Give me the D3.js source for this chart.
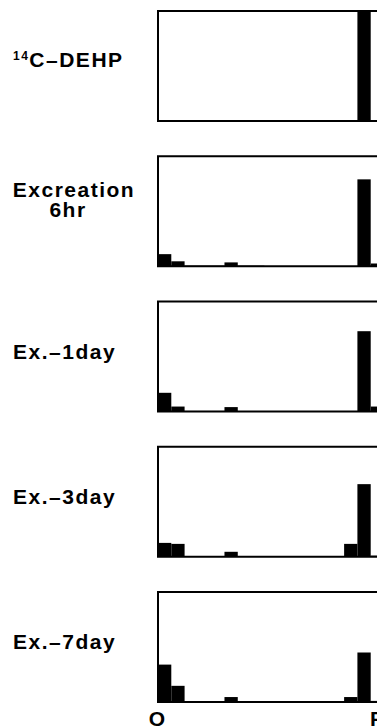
<!DOCTYPE html>
<html>
<head>
<meta charset="utf-8">
<script src="https://cdn.jsdelivr.net/npm/d3@7"></script>
<style>
  body { margin: 0; background: #fff; }
  text { font-family: "Liberation Sans", Arial, sans-serif; font-weight: bold; fill: #000; letter-spacing: 1.5px; }
</style>
</head>
<body>
<div id="chart"></div>
<script>
// radioactivity per fraction, % of panel height, fractions 0..16 from origin (O) to front (F)
const bins = d3.range(17);
const dehp   = [0, 0, 0, 0, 0, 0, 0, 0, 0, 0, 0, 0, 0, 0, 0, 100, 0];
const ex6hr  = [11, 4.5, 0.5, 0.5, 0.5, 3.5, 0.5, 0.5, 0, 0, 0, 0, 0, 0, 0, 79, 2.5];
const ex1day = [17, 4.5, 0.5, 0.5, 0.5, 4, 0, 0, 0, 0, 0, 0, 0, 0, 0, 73, 4.5];
const ex3day = [12.6, 11.7, 0, 0, 0, 4.5, 0, 0, 0, 0, 0, 0, 0, 0, 11.7, 66, 1];
const ex7day = [34, 14.7, 0, 0, 0, 4.5, 0, 0, 0, 0, 0, 0, 0, 0, 4.5, 45, 1];
const axisLabels = ["O", "F"];

const panels = [
  { lines: ["14C"], values: dehp },
  { lines: ["Excreation", "6hr"], values: ex6hr },
  { lines: ["Ex.–1day"], values: ex1day },
  { lines: ["Ex.–3day"], values: ex3day },
  { lines: ["Ex.–7day"], values: ex7day }
];

const dimensions = { width: 377, height: 728, panelH: 110, step: 145.25, top: 11 };

const svg = d3.select("#chart")
  .append("svg")
  .attr("width", dimensions.width)
  .attr("height", dimensions.height);

const x = d3.scaleLinear().domain([0, bins.length]).range([158, 384]);

panels.forEach((p, i) => {
  const top = dimensions.top + i * dimensions.step;
  const bottom = top + dimensions.panelH;
  const y = d3.scaleLinear().domain([0, 100]).range([bottom, top]);

  const g = svg.append("g");

  g.selectAll("rect.bar")
    .data(bins.filter(b => p.values[b] > 0))
    .join("rect")
    .attr("class", "bar")
    .attr("x", b => x(b))
    .attr("width", b => x(b + 1) - x(b))
    .attr("y", b => y(p.values[b]))
    .attr("height", b => y(0) - y(p.values[b]))
    .attr("fill", "#000");

  g.append("rect")
    .attr("x", x(0))
    .attr("y", top)
    .attr("width", x(bins.length) - x(0))
    .attr("height", dimensions.panelH)
    .attr("fill", "none")
    .attr("stroke", "#000")
    .attr("stroke-width", 2);

  // label
  if (i === 0) {
    const t = g.append("text").attr("x", 13).attr("y", top + 56).attr("font-size", 21);
    t.append("tspan").attr("font-size", 12).attr("dy", -7).text("14");
    t.append("tspan").attr("dy", 7).text("C–DEHP");
  } else if (p.lines.length === 2) {
    g.append("text").attr("x", 74).attr("y", top + 41).attr("font-size", 21)
      .attr("text-anchor", "middle").text(p.lines[0]);
    g.append("text").attr("x", 68).attr("y", top + 61).attr("font-size", 21)
      .attr("text-anchor", "middle").text(p.lines[1]);
  } else {
    g.append("text").attr("x", 13).attr("y", top + 57).attr("font-size", 21).text(p.lines[0]);
  }
});

// x axis end labels
svg.append("text").attr("x", x(0) - 1).attr("y", 726).attr("font-size", 21)
  .attr("text-anchor", "middle").style("letter-spacing", "0px").text(axisLabels[0]);
svg.append("text").attr("x", 370).attr("y", 726).attr("font-size", 21)
  .text(axisLabels[1]);
</script>
</body>
</html>
